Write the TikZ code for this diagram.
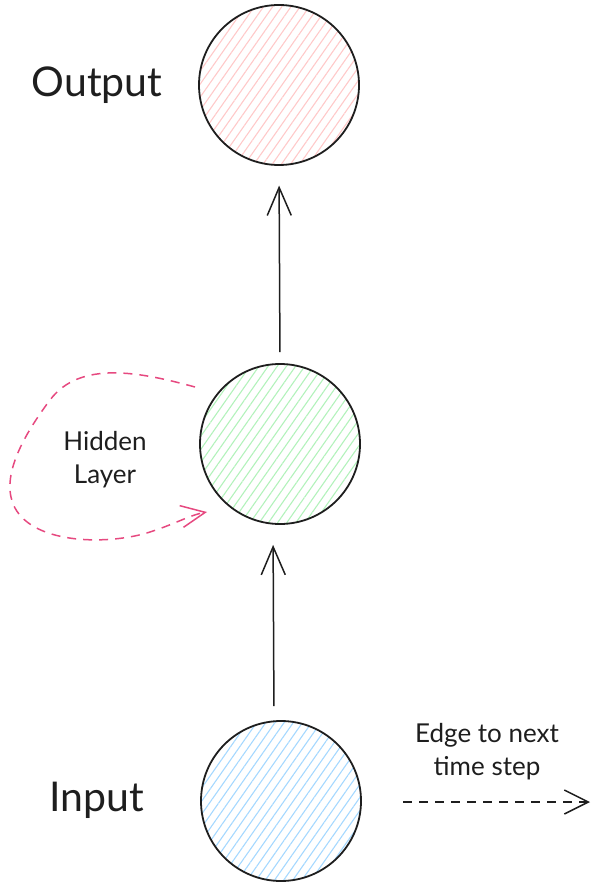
\documentclass[tikz,border=0pt]{standalone}
\usepackage{fontspec}
\setmainfont{Lato}
\usetikzlibrary{arrows.meta,patterns.meta,calc}

\definecolor{hatchred}{HTML}{FFC9C9}
\definecolor{hatchgreen}{HTML}{B2F2BB}
\definecolor{hatchblue}{HTML}{A5D8FF}
\definecolor{looppink}{HTML}{E64980}
\definecolor{ink}{HTML}{1E1E1E}

\tikzset{
  unit/.style={circle, draw=ink, line width=1.8pt, minimum size=160pt, inner sep=0pt,
    pattern={Lines[angle=55,distance=7.5pt,line width=1.1pt]}, pattern color=#1},
  biglabel/.style={font=\fontsize{41}{48}\selectfont, text=ink},
  smalllabel/.style={font=\fontsize{26}{33}\selectfont, text=ink, align=center},
  flow/.style={line width=1.5pt, draw=ink, -{Straight Barb[length=28pt,width=24pt,line width=1.5pt]}},
  recur/.style={line width=1.5pt, draw=looppink, dash pattern=on 9pt off 7pt,
    -{Straight Barb[length=24pt,width=22pt,line width=1.5pt]}},
  nextstep/.style={line width=1.5pt, draw=ink, dash pattern=on 9pt off 7pt,
    -{Straight Barb[length=24pt,width=24pt,line width=1.5pt]}}
}

\begin{document}
\begin{tikzpicture}[x=1pt,y=-1pt]
  \useasboundingbox (0,0) rectangle (609,893);

  % the three units
  \node[unit=hatchred]   (output) at (279,85)  {};
  \node[unit=hatchgreen] (hidden) at (280,444) {};
  \node[unit=hatchblue]  (input)  at (281,801) {};

  % labels
  \node[biglabel] (outlbl) at (97,85)  {Output};
  \node[biglabel] (inlbl)  at (97,800) {Input};
  \node[smalllabel] (hidlbl) at (105,460) {Hidden\\Layer};
  \node[smalllabel] (edgelbl) at (487,752) {Edge to next\\time step};

  % forward connections
  \draw[flow, shorten <=11pt, shorten >=20pt] (hidden.north) -- (output.south);
  \draw[flow, shorten <=14pt, shorten >=20pt]
    ([xshift=-7pt]input.north) -- ([xshift=-7pt]hidden.south);

  % recurrent loop
  \coordinate (la) at ($(hidden.center)+(-85,-57)$);
  \coordinate (lb) at ($(hidden.center)+(-73,68)$);
  \draw[recur] (la) .. controls (140,372) and (80,360) .. (50,400)
    .. controls (20,440) and (0,480) .. (15,508)
    .. controls (35,545) and (110,545) .. (150,532)
    .. controls (175,524) and (190,515) .. (lb);

  % edge to next time step
  \coordinate (ea) at (403,802);
  \coordinate (eb) at (590,802);
  \draw[nextstep] (ea) -- (eb);
\end{tikzpicture}
\end{document}
